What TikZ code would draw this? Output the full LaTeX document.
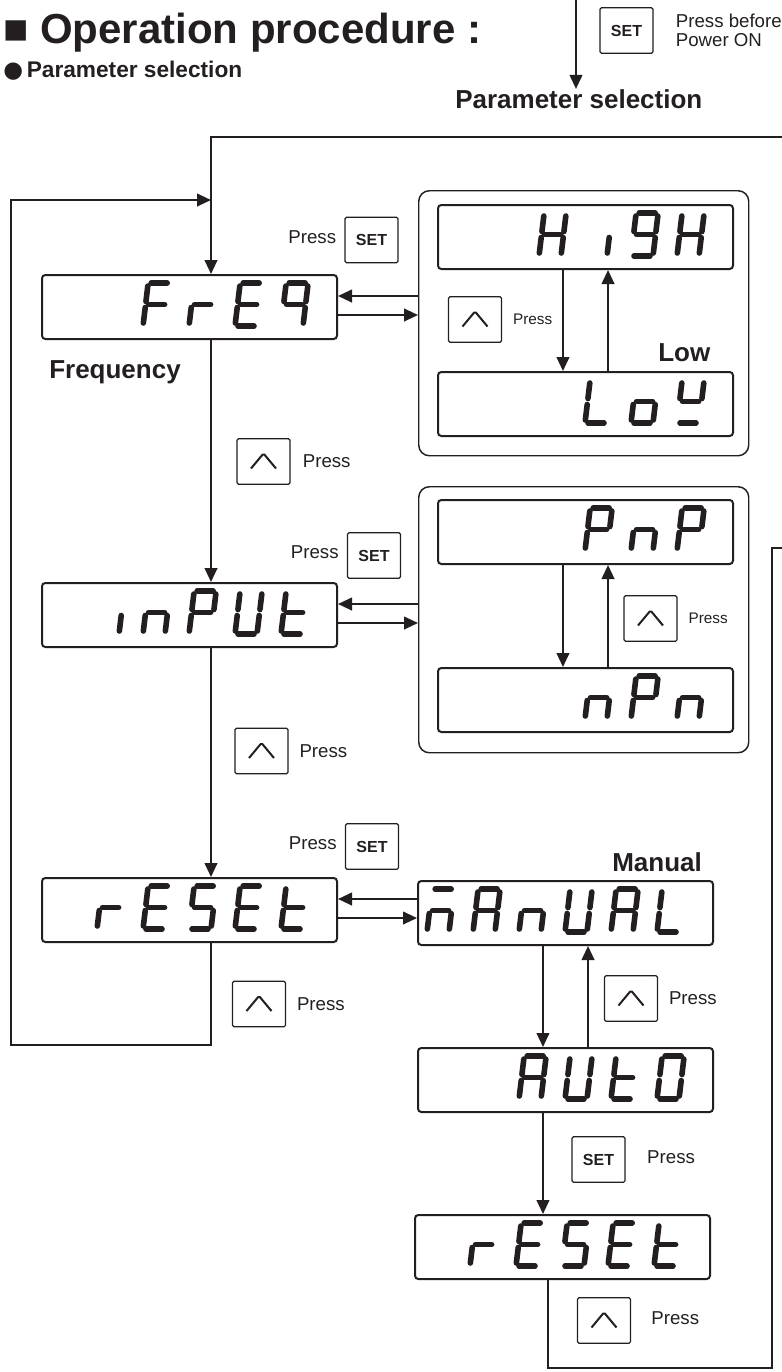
\documentclass[tikz,border=0pt]{standalone}
\usepackage{fontspec}
\setmainfont{Liberation Sans}
\newfontfamily\symfont{DejaVu Sans}
\usepackage{tikz}
\usetikzlibrary{arrows.meta,positioning,calc}

\definecolor{ink}{RGB}{35,31,32}

% seven segment pieces (px units, y grows downwards)
\def\lcda{(3,-43)--(19,-43)}
\def\lcdb{(22,-40)--(22,-24.5)}
\def\lcdc{(22,-18.5)--(22,-3)}
\def\lcdd{(3,0)--(19,0)}
\def\lcde{(0,-3)--(0,-18.5)}
\def\lcdf{(0,-24.5)--(0,-40)}
\def\lcdg{(3,-21.5)--(19,-21.5)}

\newcommand\lcdword[2]{%
  \foreach \cl/\sg in {#2}{%
    \begin{scope}[shift={(#1.north west)},shift={(10+46*\cl,52)},xslant=0.12]
      \foreach \sgm in \sg {\draw[lcdseg] \csname lcd\sgm\endcsname;}
    \end{scope}}}

\begin{document}
\begin{tikzpicture}[
    x=0.75pt, y=-0.75pt,
    color=ink,
    lcd/.style={
      draw,
      rounded corners=2.5pt,
      line width=1.5pt,
      minimum width=221.25pt,
      minimum height=48pt,
      inner sep=0pt,
      anchor=north west
    },
    grpbox/.style={
      draw,
      rounded corners=8pt,
      line width=1.1pt,
      minimum width=247.5pt,
      inner sep=0pt,
      anchor=north west
    },
    keybox/.style={
      draw,
      line width=0.9pt,
      rounded corners=1pt,
      minimum width=39.75pt,
      minimum height=34pt,
      inner sep=0pt
    },
    setkey/.style={keybox, font=\bfseries\fontsize{12}{14}\selectfont},
    upkey/.style={
      keybox,
      path picture={\draw[line width=1.5pt]
        (path picture bounding box.center) +(-12.5,7) -- +(0,-8) -- +(12.5,7);}
    },
    presslbl/.style={inner sep=0pt, font=\fontsize{14}{14.25}\selectfont},
    smallpress/.style={inner sep=0pt, font=\fontsize{11.5}{13}\selectfont},
    lbl/.style={inner sep=0pt, font=\bfseries\fontsize{19.5}{22}\selectfont},
    lcdseg/.style={line width=4.2pt, line cap=round},
    conn/.style={line width=1.5pt},
    arr/.style={conn, -{Triangle[length=10.5pt,width=9.5pt]}}
]
    \useasboundingbox (0,0) rectangle (782,1372);

    % Headings
    \node[anchor=base west, inner sep=0pt, font=\bfseries\fontsize{31.5}{36}\selectfont] (ttl) at (3,43) {■ Operation procedure :};
    \node[anchor=base west, inner sep=0pt, font=\bfseries\fontsize{17}{20}\selectfont] (sub) at (3,77) {{\symfont ●}\,Parameter selection};
    \node[lbl, anchor=base west] (psel) at (455,108) {Parameter selection};
    \node[setkey] (set0) at (626.5,30.5) {SET};
    \node[presslbl, align=left, right=16.5pt of set0] (p0) {Press before\\Power ON};

    % Displays, left column
    \node[lcd] (frq) at (41,274) {};
    \node[lcd] (inp) at (41,582) {};
    \node[lcd] (rst) at (41,877) {};

    % Option groups
    \node[grpbox, minimum height=198.75pt] (grp1) at (418,190) {};
    \node[lcd] (hgh) at (437,204) {};
    \node[lcd] (low) at (437,371) {};
    \node[grpbox, minimum height=199.5pt] (grp2) at (418,486) {};
    \node[lcd] (pnp) at (437,499) {};
    \node[lcd] (npn) at (437,667) {};

    % Reset chain
    \node[lcd] (man) at (417,880) {};
    \node[lcd] (aut) at (417,1047) {};
    \node[lcd] (rst2) at (414,1214) {};

    % Segments
    \lcdword{frq}{2/{a,e,f,g},3/{e,g},4/{a,d,e,f,g},5/{a,b,c,f,g}}
    \lcdword{inp}{1/{c},2/{c,e,g},3/{a,b,e,f,g},4/{b,c,d,e,f},5/{d,e,f,g}}
    \lcdword{rst}{1/{e,g},2/{a,d,e,f,g},3/{a,c,d,f,g},4/{a,d,e,f,g},5/{d,e,f,g}}
    \lcdword{hgh}{2/{b,c,e,f,g},3/{c},4/{a,b,c,d,f,g},5/{b,c,e,f,g}}
    \lcdword{low}{3/{d,e,f},4/{c,d,e,g},5/{b,d,f,g}}
    \lcdword{pnp}{3/{a,b,e,f,g},4/{c,e,g},5/{a,b,e,f,g}}
    \lcdword{npn}{3/{c,e,g},4/{a,b,e,f,g},5/{c,e,g}}
    \lcdword{man}{0/{a,c,e,g},1/{a,b,c,e,f,g},2/{c,e,g},3/{b,c,d,e,f},4/{a,b,c,e,f,g},5/{d,e,f}}
    \lcdword{aut}{2/{a,b,c,e,f,g},3/{b,c,d,e,f},4/{d,e,f,g},5/{a,b,c,d,e,f}}
    \lcdword{rst2}{1/{e,g},2/{a,d,e,f,g},3/{a,c,d,f,g},4/{a,d,e,f,g},5/{d,e,f,g}}

    % Labels
    \node[lbl, anchor=base west] (frqlbl) at (49,378) {Frequency};
    \node[lbl, anchor=base west] (lowlbl) at (658,361) {Low};
    \node[lbl, anchor=base west] (manlbl) at (612,871) {Manual};

    % Keys
    \node[setkey] (set1) at (371.5,240) {SET};
    \node[presslbl, left=6pt of set1, yshift=2.5pt] {Press};
    \node[upkey] (up1) at (263.5,461.5) {};
    \node[presslbl, right=9pt of up1] {Press};
    \node[setkey] (set2) at (374,555.5) {SET};
    \node[presslbl, left=6pt of set2, yshift=2.5pt] {Press};
    \node[upkey] (up2) at (261.5,751) {};
    \node[presslbl, right=8pt of up2] {Press};
    \node[setkey] (set3) at (372,846.5) {SET};
    \node[presslbl, left=6pt of set3, yshift=2.5pt] {Press};
    \node[upkey] (up3) at (259,1004) {};
    \node[presslbl, right=8pt of up3] {Press};
    \node[upkey] (up4) at (475,319.5) {};
    \node[smallpress, right=8pt of up4] {Press};
    \node[upkey] (up5) at (650.5,618.5) {};
    \node[smallpress, right=8pt of up5] {Press};
    \node[upkey] (up6) at (631,998.5) {};
    \node[presslbl, right=8pt of up6] {Press};
    \node[setkey] (set4) at (598.5,1159.5) {SET};
    \node[presslbl, right=16pt of set4, yshift=2pt] {Press};
    \node[upkey] (up7) at (604,1320.5) {};
    \node[presslbl, right=15pt of up7, yshift=2pt] {Press};

    % Connectors
    \coordinate (pwr) at (576,0);
    \draw[arr] (pwr) -- (pwr |- psel.north);

    \coordinate (tin) at (782,137);
    \coordinate (tc) at (211,137);
    \draw[arr] (tin) -- (tc) -- (tc |- frq.north);
    \draw[arr] (tc |- frq.south) -- (tc |- inp.north);
    \draw[arr] (tc |- inp.south) -- (tc |- rst.north);

    \coordinate (lb) at (11,1045);
    \coordinate (lj) at (211,200);
    \draw[arr] (tc |- rst.south) -- (tc |- lb) -- (lb) -- (lb |- lj) -- (lj);

    \path ($(frq.east)+(0,-11)$) coordinate (fa) ($(frq.east)+(0,8)$) coordinate (fb);
    \draw[arr] (fa -| grp1.west) -- (fa);
    \draw[arr] (fb) -- (fb -| grp1.west);
    \path ($(inp.east)+(0,-11)$) coordinate (ia) ($(inp.east)+(0,8)$) coordinate (ib);
    \draw[arr] (ia -| grp2.west) -- (ia);
    \draw[arr] (ib) -- (ib -| grp2.west);
    \path ($(rst.east)+(0,-11)$) coordinate (ra) ($(rst.east)+(0,8)$) coordinate (rb);
    \draw[arr] (ra -| man.west) -- (ra);
    \draw[arr] (rb) -- (rb -| man.west);

    \draw[arr] ([xshift=-16.9pt]hgh.south) -- ([xshift=-16.9pt]low.north);
    \draw[arr] ([xshift=16.9pt]low.north) -- ([xshift=16.9pt]hgh.south);
    \draw[arr] ([xshift=-16.9pt]pnp.south) -- ([xshift=-16.9pt]npn.north);
    \draw[arr] ([xshift=16.9pt]npn.north) -- ([xshift=16.9pt]pnp.south);
    \draw[arr] ([xshift=-16.9pt]man.south) -- ([xshift=-16.9pt]aut.north);
    \draw[arr] ([xshift=16.9pt]aut.north) -- ([xshift=16.9pt]man.south);

    \coordinate (ad) at ([xshift=-16.9pt]aut.south);
    \draw[arr] (ad) -- (ad |- rst2.north);

    \coordinate (rd) at ([xshift=-11pt]rst2.south);
    \coordinate (rbot) at (772,1368);
    \coordinate (rout) at (782,548);
    \draw[conn] (rd) -- (rd |- rbot) -- (rbot) -- (rbot |- rout) -- (rout);

\end{tikzpicture}
\end{document}
